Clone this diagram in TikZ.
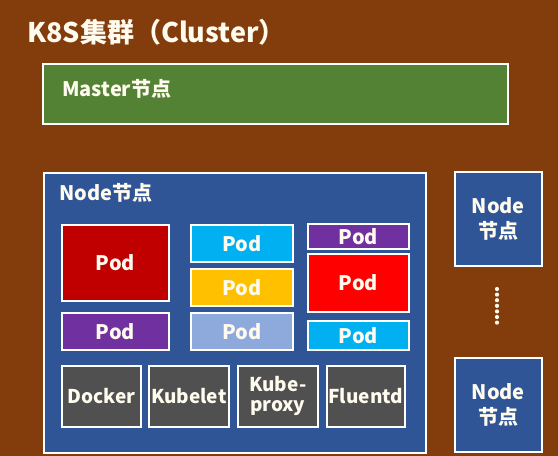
\documentclass[tikz,border=0pt]{standalone}
\usepackage{fontspec}
\setmainfont{Noto Sans CJK SC}
\usetikzlibrary{positioning}
\definecolor{clusterbg}{RGB}{131,60,11}
\definecolor{mastergreen}{RGB}{84,130,53}
\definecolor{nodeblue}{RGB}{47,85,151}
\definecolor{darkred}{RGB}{192,0,0}
\definecolor{brightred}{RGB}{255,0,0}
\definecolor{podpurple}{RGB}{112,48,160}
\definecolor{podcyan}{RGB}{0,176,240}
\definecolor{podyellow}{RGB}{255,192,0}
\definecolor{podlight}{RGB}{142,169,219}
\definecolor{compgray}{RGB}{80,80,80}
\definecolor{txt}{RGB}{255,251,238}
\tikzset{
  box/.style={draw=white, line width=1.6pt, anchor=north west, inner sep=0pt,
    text=txt, align=center, font=\bfseries\fontsize{20}{25}\selectfont},
  comp/.style={box, fill=compgray, font=\bfseries\fontsize{19}{20}\selectfont},
  label/.style={anchor=west, inner sep=0pt, text=txt, font=\bfseries\fontsize{20}{24}\selectfont}
}
% box from (x1,y1) to (x2,y2), in pixels
\def\podbox[#1](#2,#3)(#4,#5)#6{\node[box, fill=#1, minimum width=#4-#2, minimum height=#5-#3] (#6) at (#2,#3) {Pod};}

\begin{document}
\begin{tikzpicture}[x=1pt, y=-1pt]
		%%%%% START %%%%%
		\fill[clusterbg] (0,0) rectangle (558,456);
		\node[label, font=\bfseries\fontsize{27}{30}\selectfont] (title) at (27,32) {K8S集群（Cluster）};
		
		\node[box, fill=mastergreen, minimum width=465, minimum height=60] (master) at (42,63) {};
		\node[label] (mastertxt) at (62,89) {Master节点};
		
		\node[box, fill=nodeblue, minimum width=382, minimum height=280] (node) at (43,172) {};
		\node[label] (nodetxt) at (59,193) {Node节点};
		
		\podbox[darkred](61,224)(168,300){pod1}
		\podbox[podpurple](61,312)(168,349){pod2}
		\podbox[podcyan](190,224)(292,261){pod3}
		\podbox[podyellow](190,268)(292,305){pod4}
		\podbox[podlight](190,312)(292,349){pod5}
		\podbox[podpurple](307,223)(408,248){pod6}
		\podbox[brightred](307,253)(408,311){pod7}
		\podbox[podcyan](307,320)(408,349){pod8}
		
		\node[comp, minimum width=79, minimum height=61] (docker) at (61,365) {Docker};
		\node[comp, minimum width=80, minimum height=61] (kubelet) at (148,365) {Kubelet};
		\node[comp, minimum width=80, minimum height=61] (proxy) at (237,365) {Kube-\\proxy};
		\node[comp, minimum width=78, minimum height=61] (fluentd) at (326,365) {Fluentd};
		
		\node[box, fill=nodeblue, minimum width=87, minimum height=94] (node2) at (454,171) {Node\\节点};
		\node[box, fill=nodeblue, minimum width=87, minimum height=94] (node3) at (454,357) {Node\\节点};
		
		\foreach \i in {0,...,6}
			\fill[txt] (497, 289+\i*5.6) circle (2.1);
		%%%%% END %%%%%
	\end{tikzpicture}
\end{document}
